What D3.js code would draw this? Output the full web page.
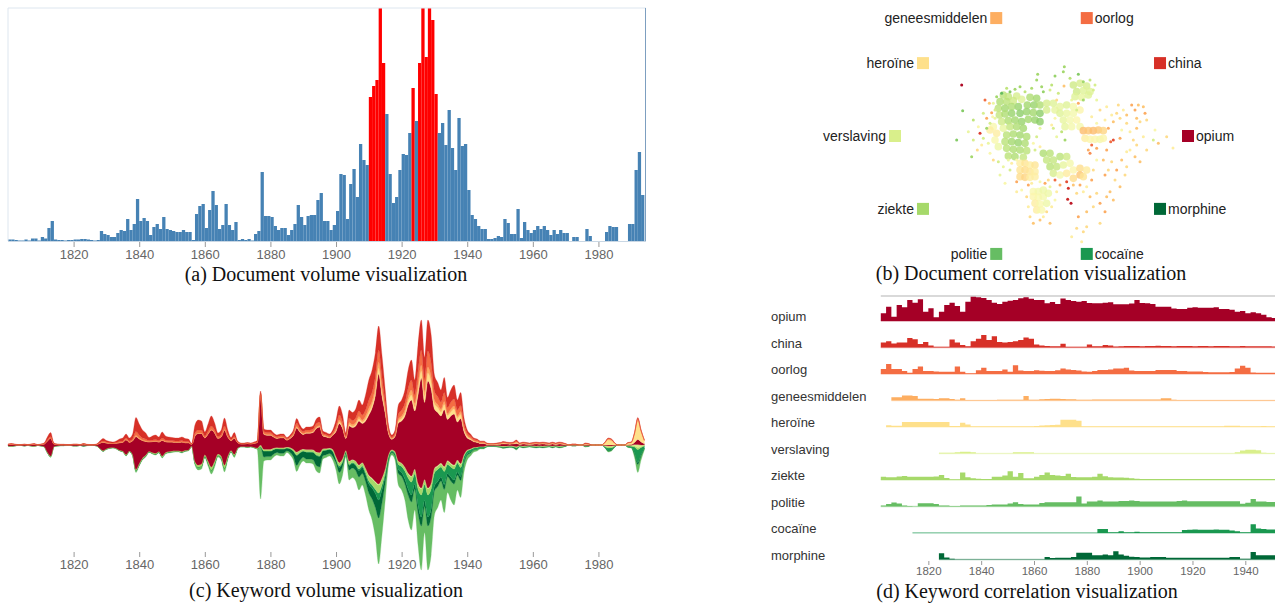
<!DOCTYPE html>
<html>
<head>
<meta charset="utf-8">
<script src="https://cdn.jsdelivr.net/npm/d3@7"></script>
<style>
    body { margin: 0; background: #fff; }
    #wrapper { width: 1275px; height: 603px; }
</style>
</head>
<body>
<div id="wrapper"></div>
<script>
const keywords = ['opium', 'china', 'oorlog', 'geneesmiddelen', 'heroïne', 'verslaving', 'ziekte', 'politie', 'cocaïne', 'morphine']
const keywordColors = ['#a50026', '#d73027', '#f46d43', '#fdae61', '#fee08b', '#d9ef8b', '#a6d96a', '#66bd63', '#1a9850', '#006837']

const volumeTicks = [1820, 1840, 1860, 1880, 1900, 1920, 1940, 1960, 1980]
const correlationTicks = [1820, 1840, 1860, 1880, 1900, 1920, 1940]

// (a) documents per year, 1800 - 1993
const volumeStartYear = 1800
const documentVolume = [
    1.5, 1.5, 1, .5, .5, 1.5, .5, 2.5, 2.5, .5,
    4, 2.5, 13, 20, 1.5, 1, 1, .5, 1, 1,
    1.5, 1.5, 2, 2, 1.5, 1, .5, 1, 10, 7,
    6, 4, 4, 8, 11, 10, 22, 11, 17, 42,
    20, 23, 20, 6, 14, 17, 12, 24, 12, 11,
    10, 9, 9, 11, 9, 9, 1, 27, 35, 37,
    13, 31, 50, 36, 12, 16, 37, 16, 11, 19,
    1, 2, 1, 2, .5, 7, 10, 69, 25, 25,
    24, 15, 11, 13, 13, 6, 11, 17, 36, 24,
    16, 25, 26, 26, 41, 48, 20, 20, 11, 16,
    30, 67, 66, 22, 57, 72, 44, 97, 81, 76,
    144, 155, 161, 240, 178, 127, 67, 38, 44, 71,
    87, 86, 108, 153, 120, 178, 240, 184, 240, 221,
    147, 108, 118, 96, 131, 93, 71, 123, 95, 97,
    51, 26, 22, 15, 12, 12, 2, 2, 3, 5,
    4, 22, 18, 7, 7, 32, 3, 19, 11, 8,
    11, 15, 12, 15, 11, 6, 11, 7, 11, 8,
    8, 0, 4, 4, 0, 0, 12, 5, 0, 0,
    0, 0, 9, 15, 14, 14, 0, 0, 0, 17,
    17, 71, 89, 46
]
const highlightedYears = [1910, 1911, 1912, 1913, 1914, 1923, 1925, 1926, 1927, 1928, 1929, 1930]

// (c) keyword volume per year, 1800 - 1994
const streamStartYear = 1800
const streamOpium = [
    1.2, 1.8, 1.2, .6, .6, 1.2, .6, 1.2, 1.8, .6,
    1.2, 2.4, 11, 18, 2.4, 1.2, .8, .8, .6, .6,
    1.2, 1.2, .6, 1.5, .8, .6, .6, 1.2, 5, 8.3,
    5.7, 4.5, 3.9, 5, 7.5, 8.8, 14.8, 8.8, 13.8, 33,
    24.7, 17.5, 13.6, 9.5, 11, 12, 9.5, 15.6, 11, 9.5,
    9, 8.5, 8.5, 9.5, 7.6, 7.2, 1.8, 25.5, 31.5, 30.5,
    17, 27.1, 37, 28.1, 15.7, 19.2, 35, 19.2, 9.8, 16,
    5.4, 2.6, 2.6, 3.3, 2.6, 3.9, 5.7, 50.5, 15, 14,
    14, 11, 9, 10, 10, 7, 9, 14, 24, 18,
    14.6, 16.4, 16.4, 17.3, 23.5, 25.5, 12.8, 11.5, 10.2, 14,
    25, 39, 30, 12, 35, 32, 35, 44, 39, 47,
    60, 70, 86, 110, 82, 55, 21, 10.5, 15, 38,
    42, 51, 68, 76, 58, 88, 110, 77, 107, 94,
    59, 53, 47, 57, 41, 47, 51, 38, 45, 23,
    12, 9, 5.5, 4.5, 3, 3, 1.2, .9, .9, 1.2,
    1.5, 2.1, 1.8, 1.5, 1.8, 3, 1.2, 1.8, 1.5, 1.2,
    1.5, 1.8, 1.5, 1.8, 1.5, 1.2, 1.8, 1.2, 1.8, 1.5,
    .9, 0, .6, .6, 0, 0, 1.2, .9, 0, 0,
    0, 0, .5, 1, 1, .4, 0, 0, 0, .5,
    .6, 2, 5, 3, 1
]
const streamChina = [
    .3, .5, .3, .2, .2, .3, .2, .3, .5, .2,
    .3, .6, 3, 4, .6, .3, .2, .2, .2, .2,
    .3, .3, .2, .3, .2, .2, .2, .3, 1.5, 2.5,
    1.5, 1.2, 1, 1.5, 2.5, 3, 4, 3, 5, 14,
    11, 8, 6, 3, 4, 4.5, 3.5, 6, 4, 3.5,
    3, 3, 3, 3.5, 3, 2.5, .5, 8, 10, 9,
    4, 7, 10, 7, 3.5, 4.5, 8, 4.5, 2, 4,
    1, .5, .5, .6, .5, .8, 1.2, 2, 2.5, 2.5,
    2.5, 2, 1.7, 1.8, 1.8, 1.2, 1.7, 2.5, 4.5, 3.5,
    2.5, 3, 3, 3, 4.5, 5, 2.3, 2, 1.8, 2.5,
    6, 9, 7, 3, 8, 8, 9, 11, 10, 15,
    20, 22, 24, 24, 22, 12, 4, 2, 3, 9,
    10, 13, 18, 20, 15, 26, 30, 22, 31, 28,
    16, 14, 12, 15, 10, 12, 14, 10, 13, 6,
    3, 2, 1.2, 1, .6, .6, .4, .3, .3, .4,
    .5, .7, .6, .5, .6, 1, .4, .6, .5, .4,
    .5, .6, .5, .6, .5, .4, .6, .4, .6, .5,
    .3, 0, .2, .2, 0, 0, .4, .3, 0, 0,
    0, 0, .2, .4, .4, .1, 0, 0, 0, .2,
    .2, .5, 1, .5, .2
]
const streamOorlog = [
    .2, .3, .2, .1, .1, .2, .1, .2, .3, .1,
    .2, .4, 1, 1.5, .4, .2, .2, .2, .1, .1,
    .2, .2, .1, .2, .2, .1, .1, .2, .7, 1,
    .8, .6, .5, .7, 1, 1, 1.5, 1, 1.5, 4,
    3, 2, 2, 1, 1.3, 1.5, 1.2, 2, 1.3, 1.2,
    1.2, 1, 1, 1.2, 1, 1, .3, 2.5, 3, 3,
    1.5, 2.5, 3.5, 2.5, 1.5, 2, 3.5, 2, 1, 1.5,
    .6, .3, .3, .4, .3, .5, .7, 1, 2, 2,
    2, 1.5, 1.3, 1.4, 1.4, 1, 1.3, 2, 3.5, 2.5,
    2, 2.2, 2.2, 2.4, 3.5, 3.5, 1.8, 1.6, 1.4, 2,
    3, 5, 4, 1.5, 4.5, 4, 4.5, 5.5, 5, 6,
    8, 9, 10, 12, 10, 6, 2.5, 1.3, 2, 5,
    6, 7, 9, 10, 8, 13, 15, 12, 16, 14,
    9, 8, 7, 9, 6, 7, 7, 6, 6, 4,
    2.5, 2, 1.5, 1.5, 1.2, 1.2, .4, .3, .3, .4,
    .5, .7, .6, .5, .6, 1, .4, .6, .5, .4,
    .5, .6, .5, .6, .5, .4, .6, .4, .6, .5,
    .3, 0, .2, .2, 0, 0, .4, .3, 0, 0,
    0, 0, .3, .6, .5, .2, 0, 0, 0, .2,
    .2, .5, 1, .5, .2
]
const streamGeneesmiddelen = [
    0, 0, 0, 0, 0, 0, 0, 0, 0, 0,
    0, 0, 0, 0, 0, 0, 0, 0, 0, 0,
    0, 0, 0, 0, 0, 0, 0, 0, 0, .2,
    .2, 0, 0, 0, .2, .2, .3, .2, .3, 1,
    .8, .5, .4, .3, .3, .3, .3, .4, .3, .3,
    .3, .3, .3, .3, .2, .2, 0, .4, .5, .5,
    .3, .4, .5, .4, .3, .3, .5, .3, .2, .3,
    0, 0, 0, 0, 0, 0, 0, .5, .5, .5,
    .5, .4, .3, .4, .4, .3, .3, .5, 1, .8,
    .6, .7, .7, .7, 1, 1, .5, .5, .4, .5,
    1.5, 2, 1.5, .6, 2, 2, 2, 2.5, 2, 3,
    4, 4, 5, 6, 5, 3, 1, .5, .8, 2,
    2.5, 3, 4, 5, 4, 5, 6, 5, 6, 5,
    4, 3, 3, 3, 2, 3, 3, 2, 3, 1.5,
    1, .8, .5, .4, .3, .3, .2, .15, .15, .2,
    .25, .35, .3, .25, .3, .5, .2, .3, .25, .2,
    .25, .3, .25, .3, .25, .2, .3, .2, .3, .25,
    .15, 0, .1, .1, 0, 0, .2, .15, 0, 0,
    0, 0, .5, 1, 1, .3, 0, 0, 0, .3,
    .4, 1, 2, 1, .4
]
const streamHeroine = [
    0, 0, 0, 0, 0, 0, 0, 0, 0, 0,
    0, 0, 0, 0, 0, 0, 0, 0, 0, 0,
    0, 0, 0, 0, 0, 0, 0, 0, 0, 0,
    0, 0, 0, 0, 0, 0, 0, 0, 0, 0,
    0, 0, 0, 0, 0, 0, 0, 0, 0, 0,
    0, 0, 0, 0, 0, 0, 0, 0, 0, 0,
    0, 0, 0, 0, 0, 0, 0, 0, 0, 0,
    0, 0, 0, 0, 0, 0, 0, 0, .3, .3,
    .3, .2, .2, .2, .2, .1, .2, .3, .5, .4,
    .3, .3, .3, .4, .5, .5, .3, .3, .2, .3,
    1, 1.5, 1, .4, 1.5, 1, 1.5, 2, 1.5, 2,
    3, 3, 4, 6, 4, 2.5, 1, .5, .7, 2,
    2.5, 3, 4, 5, 4, 6, 7, 6, 8, 7,
    5, 5, 4, 5, 4, 4, 5, 4, 4, 2.5,
    1.5, 1, .6, .5, .3, .3, .4, .3, .3, .4,
    .5, .7, .6, .5, .6, 1, .4, .6, .5, .4,
    .5, .6, .5, .6, .5, .4, .6, .4, .6, .5,
    .3, 0, .2, .2, 0, 0, .4, .3, 0, 0,
    0, 0, 2, 5, 4, 1.4, 0, 0, 0, 1.5,
    1.8, 8, 18, 10, 3
]
const streamVerslaving = [
    0, 0, 0, 0, 0, 0, 0, 0, 0, 0,
    0, 0, 0, 0, 0, 0, 0, 0, 0, 0,
    0, 0, 0, 0, 0, 0, 0, 0, 0, 0,
    0, 0, 0, 0, 0, 0, 0, 0, 0, 0,
    0, 0, 0, 0, 0, 0, 0, 0, 0, 0,
    0, 0, 0, 0, 0, 0, 0, 0, 0, 0,
    0, 0, 0, 0, 0, 0, 0, 0, 0, 0,
    0, 0, 0, 0, 0, 0, 0, 0, .3, .3,
    .3, .2, .2, .2, .2, .1, .2, .3, .5, .4,
    .3, .4, .4, .4, .5, .5, .3, .3, .2, .3,
    .5, .5, .5, .2, .5, .5, .5, .5, .5, .5,
    1, 1, 1, 1, 1, .5, .3, .2, .3, .5,
    .5, .5, 1, 1, 1, 1, 1, 1, 1, 1,
    1, 1, 1, 1, 1, 1, 1, 1, 1, .5,
    .3, .2, .2, .2, .1, .1, .2, .15, .15, .2,
    .25, .35, .3, .25, .3, .5, .2, .3, .25, .2,
    .25, .3, .25, .3, .25, .2, .3, .2, .3, .25,
    .15, 0, .1, .1, 0, 0, .2, .15, 0, 0,
    0, 0, .5, 1, 1, .3, 0, 0, 0, .4,
    .5, 1.5, 3, 1.5, .5
]
const streamZiekte = [
    .1, .1, .1, 0, 0, .1, 0, .1, .1, 0,
    .1, .2, .5, .5, .2, .1, .1, .1, 0, 0,
    .1, .1, 0, 0, .1, 0, 0, .1, .3, .4,
    .3, .3, .2, .3, .3, .4, .5, .4, .5, 1,
    1, .8, .8, .5, .6, .7, .6, .8, .6, .6,
    .6, .5, .5, .6, .5, .4, .2, 1.6, 2, 2,
    1.2, 2, 3, 2.5, 1.2, 1.5, 3, 1.5, .8, 1.2,
    .4, .2, .2, .3, .2, .3, .4, 2, 1.5, 1.5,
    1.5, 1.2, 1, 1.1, 1.1, .8, 1, 1.5, 2.5, 2,
    1.6, 1.8, 1.8, 1.9, 2.5, 2.8, 1.4, 1.2, 1.1, 1.5,
    2, 3, 2.5, 1, 3, 2.5, 3, 3.5, 3, 4,
    5, 6, 7, 8, 6, 4, 1.5, .8, 1.2, 3,
    3, 3.5, 4, 5, 4, 5, 6, 4, 6, 5,
    4, 3, 3, 4, 3, 3, 3, 2, 3, 1.5,
    .8, .6, .4, .4, .3, .3, .2, .15, .15, .2,
    .25, .35, .3, .25, .3, .5, .2, .3, .25, .2,
    .25, .3, .25, .3, .25, .2, .3, .2, .3, .25,
    .15, 0, .1, .1, 0, 0, .2, .15, 0, 0,
    0, 0, .5, 1, .8, .3, 0, 0, 0, .4,
    .5, 1, 2, 1, .4
]
const streamPolitie = [
    .2, .3, .2, .1, .1, .2, .1, .2, .3, .1,
    .2, .4, .5, 1, .4, .2, .2, .2, .1, .1,
    .2, .2, .1, .2, .2, .1, .1, .2, .5, .6,
    .5, .4, .4, .5, .5, .6, .9, .6, .9, 2,
    1.5, 1.2, 1.2, .7, .8, 1, .9, 1.2, .8, .9,
    .9, .7, .7, .9, .7, .7, .2, 2, 3, 3,
    2, 3, 4, 3.5, 1.8, 2.5, 4, 2.5, 1.2, 2,
    .6, .4, .4, .4, .4, .5, 1, 52, 3.9, 3.4,
    3.4, 3, 2.5, 2.7, 2.7, 1.7, 2.5, 3.4, 6, 4.5,
    3.8, 4, 4, 4.3, 5.5, 6.1, 3.3, 2.8, 2.5, 3.6,
    7, 11.5, 8.5, 3.4, 10, 9.5, 10.5, 13, 11.5, 13.5,
    17, 21, 30, 46, 32, 17, 5.2, 2.4, 4, 11.5,
    13.5, 16, 25, 28, 21, 32, 44, 26, 44, 38,
    24, 21, 19, 23, 16, 19, 21, 15, 17, 9,
    4.9, 3.1, 2, 1.7, 1, 1, .4, .3, .3, .4,
    .5, .7, .6, .5, .6, 1, .4, .6, .5, .4,
    .5, .6, .5, .6, .5, .4, .6, .4, .6, .5,
    .3, 0, .2, .2, 0, 0, .4, .3, 0, 0,
    0, 0, .5, 1, .9, .3, 0, 0, 0, .5,
    .6, 3.5, 8, 4.5, 1.5
]
const streamCocaine = [
    0, 0, 0, 0, 0, 0, 0, 0, 0, 0,
    0, 0, 0, 0, 0, 0, 0, 0, 0, 0,
    0, 0, 0, 0, 0, 0, 0, 0, 0, 0,
    0, 0, 0, 0, 0, 0, 0, 0, 0, 0,
    0, 0, 0, 0, 0, 0, 0, 0, 0, 0,
    0, 0, 0, 0, 0, 0, 0, 0, 0, 0,
    0, 0, 0, 0, 0, 0, 0, 0, 0, 0,
    0, 0, 0, 0, 0, 0, 0, 0, 0, 0,
    0, 0, 0, 0, 0, 0, 0, 0, .5, .4,
    .3, .4, .4, .4, .5, .6, .3, .3, .2, .3,
    1, 1.5, 1, .4, 1, 1, 1, 1.5, 1.5, 2,
    3, 3, 4, 7, 5, 3, 1.5, .8, 1.5, 5,
    6, 8, 11, 13, 10, 16, 22, 16, 22, 20,
    13, 12, 10, 13, 9, 10, 11, 9, 9, 5,
    3, 2.5, 1.6, 1.4, 1, 1, .4, .3, .3, .4,
    .5, .7, .6, .5, .6, 1, .4, .6, .5, .4,
    .5, .6, .5, .6, .5, .4, .6, .4, .6, .5,
    .3, 0, .2, .2, 0, 0, .4, .3, 0, 0,
    0, 0, .8, 2.5, 2, .6, 0, 0, 0, .8,
    1, 6, 13, 7, 2.5
]
const streamMorphine = [
    0, 0, 0, 0, 0, 0, 0, 0, 0, 0,
    0, 0, 0, 0, 0, 0, 0, 0, 0, 0,
    0, 0, 0, .8, 0, 0, 0, 0, 0, 0,
    0, 0, 0, 0, 0, 0, 0, 0, 0, 0,
    0, 0, 0, 0, 0, 0, 0, 0, 0, 0,
    0, 0, 0, 0, 0, 0, 0, 0, 0, 0,
    0, 0, 0, 0, 0, 0, 0, 0, 0, 0,
    0, 0, 0, 0, 0, 0, 0, 0, 6, 5.5,
    5.5, 4.5, 3.8, 4.2, 4.2, 2.8, 3.8, 5.5, 10, 7.5,
    6, 6.8, 6.8, 7.2, 10, 10.5, 5, 4.5, 4, 5,
    3, 5, 4, 1.5, 4.5, 4.5, 5, 6.5, 6, 7,
    9, 11, 14, 18, 13, 7, 2, 1, 1.5, 4,
    4, 5, 6, 7, 5, 8, 9, 6, 9, 8,
    5, 5, 4, 5, 3, 4, 4, 3, 4, 2,
    1, .8, .5, .4, .2, .2, .2, .15, .15, .2,
    .25, .35, .3, .25, .3, .5, .2, .3, .25, .2,
    .25, .3, .25, .3, .25, .2, .3, .2, .3, .25,
    .15, 0, .1, .1, 0, 0, .2, .15, 0, 0,
    0, 0, .2, .5, .4, .1, 0, 0, 0, .2,
    .2, 1, 2, 1, .3
]
// stacking order, bottom to top
const streamOrder = ['politie', 'morphine', 'cocaïne', 'ziekte', 'verslaving', 'opium', 'heroïne', 'geneesmiddelen', 'oorlog', 'china']

// (b) document projection: [x, y, keyword mix 0 = opium .. 1 = morphine]
const docPoints = [
    [65, 75, .02], [373, 20, .7], [370, 35, .7], [293, 43, .7], [345, 48, .72], [415, 43, .75], [430, 65, .7], [372, 78, .35],
    [240, 80, .7], [210, 95, .75], [185, 100, .8], [255, 95, .65], [135, 120, .2], [148, 130, .35], [155, 158, .3], [120, 220, .12],
    [68, 152, .75], [100, 180, .65], [50, 240, .75], [95, 290, .7], [112, 270, .4], [125, 255, .45], [150, 280, .5], [160, 300, .4],
    [145, 250, .55], [130, 235, .6], [180, 345, .55], [195, 370, .5], [210, 330, .6], [230, 365, .3], [265, 375, .3], [245, 390, .5],
    [280, 490, .35], [300, 480, .35], [330, 490, .35], [295, 455, .5], [310, 470, .45], [395, 530, .45], [425, 545, .45], [430, 515, .4],
    [440, 500, .4], [480, 490, .4], [410, 505, .4], [415, 470, .3], [385, 385, .1], [393, 430, .05], [383, 418, .08], [380, 365, .15],
    [480, 430, .3], [500, 410, .35], [470, 400, .4], [510, 395, .35], [540, 380, .35], [525, 360, .4], [555, 345, .4], [560, 320, .4],
    [545, 300, .35], [500, 270, .3], [520, 240, .15], [512, 245, .2], [540, 235, .3], [580, 240, .4], [570, 270, .45], [590, 255, .4],
    [585, 290, .35], [600, 305, .35], [560, 275, .45], [520, 185, .35], [540, 175, .4], [560, 165, .35], [575, 135, .3], [595, 135, .35],
    [615, 160, .3], [590, 175, .35], [550, 150, .45], [530, 160, .4], [560, 190, .4], [600, 185, .4], [645, 210, .5], [640, 240, .6],
    [680, 230, .4], [699, 264, .45], [460, 330, .4], [470, 300, .5], [455, 360, .3], [440, 380, .45], [335, 75, .65], [330, 90, .6],
    [305, 80, .7], [415, 130, .3], [410, 150, .6], [430, 120, .7], [365, 215, .65], [350, 230, .55], [375, 240, .7], [340, 205, .6],
    [150, 190, .6], [165, 175, .55], [140, 205, .7], [175, 305, .6], [190, 320, .55], [230, 395, .45], [260, 410, .4], [265, 440, .45],
    [345, 360, .2], [360, 375, .3], [350, 395, .45], [330, 380, .55], [450, 280, .25], [470, 265, .3], [490, 300, .35], [505, 330, .4],
    [455, 170, .45], [470, 190, .5], [480, 150, .4], [500, 140, .45], [470, 120, .55], [460, 90, .6],
    [290, 60, .7], [310, 95, .72], [275, 85, .68], [225, 88, .7], [200, 85, .65], [170, 110, .7], [160, 130, .55], [165, 150, .6],
    [158, 170, .5], [355, 100, .62], [390, 55, .66], [450, 60, .64], [465, 75, .6], [395, 120, .55], [350, 120, .4], [345, 175, .5],
    [335, 195, .45], [300, 205, .55], [290, 230, .6], [280, 250, .5], [300, 260, .45], [285, 270, .6], [230, 300, .5], [215, 310, .45],
    [205, 300, .55], [325, 360, .4], [315, 370, .3], [300, 365, .5], [275, 370, .45], [320, 455, .4], [335, 440, .45], [345, 420, .5],
    [270, 470, .4], [400, 375, .35], [420, 375, .3], [410, 400, .4], [430, 395, .45], [450, 410, .35], [460, 440, .4], [440, 455, .35],
    [495, 455, .3], [520, 420, .35], [530, 330, .3], [515, 305, .4], [495, 345, .3], [455, 255, .2], [445, 270, .3], [505, 205, .3],
    [495, 180, .45], [515, 165, .45], [535, 135, .4], [585, 150, .3], [610, 140, .35], [620, 180, .4], [570, 215, .45], [545, 210, .5],
    [590, 205, .35], [620, 270, .4], [610, 230, .45], [655, 250, .35], [130, 160, .6], [115, 200, .5], [140, 175, .3], [100, 240, .6],
    [85, 215, .55]
]
// dense groups of near-identical documents
const docClusters = [
    [190, 105, .66], [205, 110, .64], [230, 108, .6],
    [180, 125, .68], [200, 125, .66], [220, 122, .62], [245, 118, .58], [270, 112, .68], [290, 115, .7],
    [175, 145, .66], [195, 145, .7], [215, 140, .68], [235, 140, .72], [262, 135, .7], [282, 135, .72], [300, 135, .68], [320, 130, .6], [340, 130, .58],
    [178, 165, .64], [195, 162, .68], [215, 160, .72], [240, 160, .74], [260, 155, .72], [280, 158, .7], [300, 160, .74], [320, 150, .6], [345, 150, .56],
    [185, 185, .62], [205, 182, .68], [225, 180, .7], [245, 185, .72], [265, 178, .7], [285, 180, .72], [300, 185, .74],
    [190, 205, .56], [210, 200, .64], [230, 200, .68], [250, 205, .7],
    [200, 225, .66], [220, 222, .68], [240, 225, .7], [260, 230, .68],
    [195, 245, .66], [215, 245, .7], [235, 248, .72], [255, 250, .68],
    [200, 265, .66], [220, 268, .68], [240, 270, .68], [260, 272, .66],
    [205, 288, .66], [225, 290, .68], [250, 292, .64],
    [400, 75, .62], [420, 70, .6], [440, 78, .6], [410, 95, .62], [430, 92, .58], [450, 95, .58], [405, 110, .58], [425, 112, .56], [445, 105, .58],
    [360, 140, .56], [380, 135, .58], [400, 140, .52], [360, 160, .58], [380, 160, .55], [400, 160, .52], [420, 150, .48],
    [370, 180, .56], [390, 180, .52], [410, 180, .48], [375, 200, .56], [395, 200, .52], [420, 200, .52],
    [430, 212, .33], [445, 212, .35], [460, 212, .33], [475, 210, .35], [490, 212, .38], [435, 235, .45], [450, 238, .48], [465, 238, .48], [480, 238, .52], [490, 235, .48],
    [310, 280, .68], [330, 280, .66], [320, 300, .64], [340, 300, .64], [360, 290, .66], [380, 290, .62], [330, 320, .66], [350, 320, .64], [370, 315, .56], [390, 310, .52],
    [340, 340, .6], [360, 345, .52], [380, 340, .44], [400, 330, .48], [420, 325, .4], [440, 330, .44], [420, 345, .35], [400, 355, .4], [430, 350, .42],
    [240, 310, .45], [255, 310, .42], [270, 315, .45], [285, 315, .42], [240, 330, .42], [255, 330, .4], [270, 335, .42], [285, 335, .45],
    [240, 350, .4], [255, 352, .38], [270, 352, .45], [285, 350, .45],
    [280, 395, .5], [295, 395, .52], [310, 390, .54], [280, 410, .48], [295, 412, .5], [310, 410, .52], [325, 400, .54],
    [285, 430, .45], [300, 432, .5], [320, 430, .54], [290, 450, .45], [305, 450, .5],
    [160, 200, .5], [170, 220, .45], [165, 240, .5], [175, 260, .54], [150, 210, .45]
]

// (d) keyword correlation, two-year bins from 1802 (null = keyword not yet present)
const correlationStartYear = 1802
const correlationBinYears = 2
const corrOpium = [
    31, 57, 17, 64, 55, 84, 73, 87, 37, 51,
    15, 37, 64, 73, 60, 37, 77, 97, 95, 92,
    84, 73, 68, 77, 81, 84, 91, 95, 89, 84,
    84, 71, 76, 68, 90, 84, 80, 77, 80, 72,
    71, 71, 73, 75, 67, 67, 67, 70, 84, 72,
    71, 68, 57, 57, 57, 50, 48, 48, 53, 55,
    53, 53, 53, 55, 48, 48, 45, 37, 40, 31,
    35, 31, 25, 15, 12
]
const corrChina = [
    20, 25, 16, 20, 20, 38, 33, 14, 22, 8,
    3, 3, 3, 32, 20, 10, 5, 25, 35, 50,
    30, 45, 22, 20, 22, 25, 30, 40, 35, 12,
    8, 6, 5, 5, 15, 3, 3, 3, 3, 12,
    5, 5, 10, 8, 4, 5, 6, 6, 6, 5,
    6, 6, 7, 6, 6, 5, 6, 6, 6, 5,
    6, 6, 5, 6, 6, 6, 5, 5, 6, 5,
    5, 5, 5, 5, 4
]
const corrOorlog = [
    20, 40, 20, 20, 12, 5, 20, 30, 12, 12,
    10, 9, 9, 9, 30, 9, 3, 3, 15, 25,
    12, 12, 12, 18, 9, 35, 14, 12, 12, 15,
    13, 12, 12, 15, 22, 18, 16, 14, 10, 9,
    12, 16, 16, 18, 22, 22, 25, 14, 12, 12,
    12, 12, 16, 16, 16, 16, 12, 12, 10, 10,
    10, 8, 7, 7, 7, 7, 8, 22, 33, 25,
    6, 5, 5, 5, 5
]
const corrGeneesmiddelen = [
    null, null, 13, 13, 20, 20, 18, 7, 7, 7,
    6, 9, 9, 6, 3, 9, 2, 2, 2, 2,
    2, 2, 3, 3, 3, 3, 3, 18, 3, 3,
    5, 6, 7, 7, 6, 5, 5, 3, 3, 3,
    4, 4, 4, 4, 4, 4, 4, 4, 4, 4,
    4, 4, 4, 9, 9, 3, 2, 2, 2, 2,
    2, 2, 2, 2, 2, 2, 2, 2, 2, 2,
    2, 2, 2, 2, 2
]
const corrHeroine = [
    null, 7, 5, 5, 20, 20, 20, 20, 20, 20,
    20, 20, 20, 4, 4, 17, 10, 3, 3, 3,
    3, 3, 3, 3, 3, 3, 3, 3, 3, 4,
    6, 7, 8, 9, 29, 29, 29, 25, 3, 3,
    3, 3, 3, 3, 3, 3, 3, 3, 3, 3,
    3, 3, 3, 3, 3, 3, 3, 3, 3, 3,
    3, 3, 3, 3, 3, 5, 5, 5, 3, 3,
    3, 3, 4, 3, 3
]
const corrVerslaving = [
    null, null, null, null, null, null, null, null, null, null,
    null, 3, 3, 3, 5, 7, 7, 5, 1, 1,
    1, 1, 1, 1, 1, 5, 5, 5, 5, 1,
    1, 1, 1, 1, 1, 1, 1, 1, 1, 1,
    1, 1, 1, 1, 1, 1, 1, 1, 1, 1,
    1, 1, 1, 1, 1, 1, 1, 1, 1, 1,
    1, 1, 1, 1, 1, 1, 1, 5, 12, 15,
    15, 13, 3, 2, 2
]
const corrZiekte = [
    13, 11, 11, 14, 16, 13, 13, 13, 13, 13,
    14, 20, 8, 3, 3, 30, 11, 7, 5, 4,
    4, 13, 13, 18, 35, 13, 28, 7, 7, 13,
    20, 30, 20, 18, 16, 25, 12, 11, 11, 11,
    13, 25, 15, 11, 10, 10, 9, 7, 5, 4,
    4, 4, 4, 4, 4, 4, 4, 4, 4, 4,
    4, 4, 4, 4, 4, 4, 4, 4, 4, 4,
    4, 4, 4, 4, 4
]
const corrPolitie = [
    4, 10, 16, 12, 4, 2, 1, 13, 13, 13,
    10, 4, 4, 2, 2, 4, 4, 4, 4, 4,
    6, 8, 8, 8, 12, 17, 10, 8, 8, 8,
    14, 17, 17, 17, 17, 17, 17, 40, 12, 20,
    20, 24, 20, 20, 20, 22, 22, 24, 22, 20,
    20, 20, 20, 20, 20, 20, 22, 24, 21, 21,
    21, 21, 21, 21, 21, 21, 21, 21, 11, 15,
    30, 20, 20, 18, 18
]
const corrCocaine = [
    null, null, null, null, null, null, 1, 1, 1, 1,
    1, 1, 1, 1, 1, 1, 1, 1, 1, 1,
    1, 1, 1, 1, 1, 1, 1, 1, 1, 1,
    1, 1, 1, 1, 1, 1, 1, 1, 1, 1,
    1, 16, 16, 3, 3, 7, 3, 3, 5, 3,
    3, 3, 3, 3, 3, 3, 3, 12, 13, 14,
    13, 13, 13, 14, 13, 13, 10, 7, 3, 3,
    35, 18, 16, 14, 14
]
const corrMorphine = [
    null, null, null, null, null, null, null, null, null, null,
    null, 25, 8, 3, 1, 1, 1, 1, 1, 1,
    1, 1, 1, 1, 1, 1, 1, 1, 1, 1,
    1, 10, 6, 7, 7, 7, 10, 27, 27, 27,
    17, 17, 20, 17, 33, 20, 15, 11, 10, 8,
    8, 10, 10, 10, 7, 7, 7, 7, 7, 7,
    7, 7, 7, 7, 7, 7, 10, 10, 3, 3,
    30, 17, 17, 17, 17
]

const sansFont = "'Liberation Sans', Arial, Helvetica, sans-serif"
const serifFont = "'Liberation Serif', 'Times New Roman', Times, serif"
const color = d3.scaleOrdinal().domain(keywords).range(keywordColors)

const wrapper = d3.select('#wrapper')
    .append('svg')
    .attr('width', 1275)
    .attr('height', 603)

function styleAxis(axis, fontSize) {
    axis.select('.domain').remove()
    axis.selectAll('line').attr('stroke', '#999')
    axis.selectAll('text')
        .attr('fill', '#666')
        .style('font-size', `${fontSize}px`)
        .style('font-family', sansFont)
}

function caption(x, y, label) {
    wrapper.append('text')
        .attr('x', x)
        .attr('y', y)
        .attr('text-anchor', 'middle')
        .style('font-family', serifFont)
        .style('font-size', '20px')
        .attr('fill', '#111')
        .text(label)
}

function renderVolume() {
    const dimensions = { left: 8, right: 646, top: 8, baseline: 241 }

    const xScale = d3.scaleLinear()
        .domain([1800, 1994.5])
        .range([dimensions.left, dimensions.right])

    const yScale = d3.scaleLinear()
        .domain([0, 233])
        .range([dimensions.baseline, dimensions.top])
        .clamp(true)

    const bounds = wrapper.append('g')
    const barWidth = xScale(volumeStartYear + 1) - xScale(volumeStartYear)

    bounds.append('g')
        .selectAll('rect')
        .data(documentVolume)
        .join('rect')
        .attr('x', (d, i) => xScale(volumeStartYear + i))
        .attr('y', d => yScale(d))
        .attr('width', barWidth)
        .attr('height', d => dimensions.baseline - yScale(d))
        .attr('fill', (d, i) => highlightedYears.includes(volumeStartYear + i) ? '#ff0000' : '#4682b4')

    // frame
    bounds.append('path')
        .attr('d', `M${dimensions.left},${dimensions.baseline}V${dimensions.top}H${dimensions.right}`)
        .attr('fill', 'none')
        .attr('stroke', '#dde6ef')
    bounds.append('line')
        .attr('x1', dimensions.left).attr('x2', dimensions.right)
        .attr('y1', dimensions.baseline + 0.5).attr('y2', dimensions.baseline + 0.5)
        .attr('stroke', '#c9d7e4')
    bounds.append('line')
        .attr('x1', dimensions.right - 0.5).attr('x2', dimensions.right - 0.5)
        .attr('y1', dimensions.top).attr('y2', dimensions.baseline)
        .attr('stroke', '#7d9fc0')

    const xAxisGenerator = d3.axisBottom(xScale)
        .tickValues(volumeTicks)
        .tickFormat(d3.format('d'))
        .tickSize(5)
        .tickPadding(3)
    const xAxis = bounds.append('g')
        .attr('transform', `translate(0, ${dimensions.baseline + 1})`)
        .call(xAxisGenerator)
    styleAxis(xAxis, 13)

    caption(326, 281, '(a) Document volume visualization')
}

function renderStream() {
    const center = 445

    const xScale = d3.scaleLinear()
        .domain([1800, 1994.5])
        .range([8, 646])

    const yScale = d3.scaleLinear()
        .domain([-130, 130])
        .range([center + 130, center - 130])

    const streamSeries = {
        'opium': streamOpium, 'china': streamChina, 'oorlog': streamOorlog,
        'geneesmiddelen': streamGeneesmiddelen, 'heroïne': streamHeroine, 'verslaving': streamVerslaving,
        'ziekte': streamZiekte, 'politie': streamPolitie, 'cocaïne': streamCocaine, 'morphine': streamMorphine
    }
    const table = streamOpium.map((d, i) => {
        const row = { year: streamStartYear + i }
        keywords.forEach(k => row[k] = streamSeries[k][i])
        return row
    })

    const stackGenerator = d3.stack()
        .keys(streamOrder)
        .offset(d3.stackOffsetSilhouette)
    const layers = stackGenerator(table)

    const areaGenerator = d3.area()
        .x(d => xScale(d.data.year))
        .y0(d => yScale(d[0]))
        .y1(d => yScale(d[1]))
        .curve(d3.curveMonotoneX)

    const bounds = wrapper.append('g')
    bounds.selectAll('path')
        .data(layers)
        .join('path')
        .attr('d', areaGenerator)
        .attr('fill', d => color(d.key))
        .attr('stroke', d => color(d.key))
        .attr('stroke-width', 0.3)

    const xAxisGenerator = d3.axisBottom(xScale)
        .tickValues(volumeTicks)
        .tickFormat(d3.format('d'))
        .tickSize(5)
        .tickPadding(3)
    const xAxis = bounds.append('g')
        .attr('transform', 'translate(0, 552)')
        .call(xAxisGenerator)
    styleAxis(xAxis, 13)

    caption(326, 597, '(c) Keyword volume visualization')
}

function renderCorrelation() {
    const centerX = 1041.5
    const centerY = 136
    const radiusX = 146.5
    const radiusY = 124

    const xScale = d3.scaleLinear().domain([0, 690]).range([940, 1170])
    const yScale = d3.scaleLinear().domain([0, 600]).range([60, 260])
    const mixColor = d3.scaleSequential(d3.interpolateRdYlGn).domain([0, 1])

    const bounds = wrapper.append('g')

    bounds.append('g')
        .selectAll('circle')
        .data(docClusters)
        .join('circle')
        .attr('cx', d => xScale(d[0]))
        .attr('cy', d => yScale(d[1]))
        .attr('r', 3.8)
        .attr('fill', d => mixColor(d[2]))
        .attr('fill-opacity', 0.8)

    bounds.append('g')
        .selectAll('circle')
        .data(docPoints)
        .join('circle')
        .attr('cx', d => xScale(d[0]))
        .attr('cy', d => yScale(d[1]))
        .attr('r', 1.5)
        .attr('fill', d => mixColor(d[2]))

    // keyword anchors placed evenly round an ellipse
    const angle = d3.scaleLinear().domain([0, keywords.length]).range([0, 2 * Math.PI])
    const anchors = keywords.map((k, i) => ({
        key: k,
        x: centerX + radiusX * Math.cos(angle(i)),
        y: centerY - radiusY * Math.sin(angle(i)),
        right: Math.cos(angle(i)) > 0.01
    }))

    const legend = bounds.append('g')
        .selectAll('g')
        .data(anchors)
        .join('g')
        .attr('transform', d => `translate(${d.x}, ${d.y})`)

    legend.append('rect')
        .attr('x', -6)
        .attr('y', -6)
        .attr('width', 12)
        .attr('height', 12)
        .attr('fill', d => color(d.key))

    legend.append('text')
        .attr('x', d => d.right ? 8 : -9)
        .attr('dy', '0.36em')
        .attr('text-anchor', d => d.right ? 'start' : 'end')
        .style('font-family', sansFont)
        .style('font-size', '14px')
        .attr('fill', '#222')
        .text(d => d.key)

    caption(1031, 280, '(b) Document correlation visualization')
}

function renderKeywordRows() {
    const rowSeries = {
        'opium': corrOpium, 'china': corrChina, 'oorlog': corrOorlog,
        'geneesmiddelen': corrGeneesmiddelen, 'heroïne': corrHeroine, 'verslaving': corrVerslaving,
        'ziekte': corrZiekte, 'politie': corrPolitie, 'cocaïne': corrCocaine, 'morphine': corrMorphine
    }
    const endYear = correlationStartYear + corrOpium.length * correlationBinYears

    const xScale = d3.scaleLinear()
        .domain([1802, 1952])
        .range([880.8, 1277])

    const rowScale = d3.scaleBand()
        .domain(keywords)
        .range([294.5, 559.5])

    const heightScale = d3.scaleLinear()
        .domain([0, 100])
        .range([0, 25])

    const bounds = wrapper.append('g')

    // top frame of the first row
    bounds.append('line')
        .attr('x1', xScale(1802)).attr('x2', 1275)
        .attr('y1', rowScale(keywords[0]) + rowScale.bandwidth() - heightScale(100))
        .attr('y2', rowScale(keywords[0]) + rowScale.bandwidth() - heightScale(100))
        .attr('stroke', '#cccccc')
        .attr('stroke-width', 1.5)

    keywords.forEach(k => {
        const baseline = rowScale(k) + rowScale.bandwidth()
        const values = rowSeries[k]
        const points = values.map((v, i) => ({ year: correlationStartYear + i * correlationBinYears, v }))
        points.push({ year: endYear, v: values[values.length - 1] })
        const firstYear = points.find(p => p.v !== null).year

        const row = bounds.append('g')

        row.append('line')
            .attr('x1', xScale(firstYear)).attr('x2', xScale(endYear))
            .attr('y1', baseline).attr('y2', baseline)
            .attr('stroke', color(k))
            .attr('stroke-opacity', 0.35)
            .attr('stroke-width', 1.5)

        const areaGenerator = d3.area()
            .defined(d => d.v !== null)
            .x(d => xScale(d.year))
            .y0(baseline)
            .y1(d => baseline - heightScale(d.v))
            .curve(d3.curveStepAfter)

        row.append('path')
            .attr('d', areaGenerator(points))
            .attr('fill', color(k))

        row.append('text')
            .attr('x', 771)
            .attr('y', baseline)
            .style('font-family', sansFont)
            .style('font-size', '13px')
            .attr('fill', '#333')
            .text(k)
    })

    const xAxisGenerator = d3.axisBottom(xScale)
        .tickValues(correlationTicks)
        .tickFormat(d3.format('d'))
        .tickSize(4)
        .tickPadding(2)
    const xAxis = bounds.append('g')
        .attr('transform', 'translate(0, 561)')
        .call(xAxisGenerator)
    styleAxis(xAxis, 11.5)

    caption(1027, 598, '(d) Keyword correlation visualization')
}

renderVolume()
renderStream()
renderCorrelation()
renderKeywordRows()
</script>
</body>
</html>
